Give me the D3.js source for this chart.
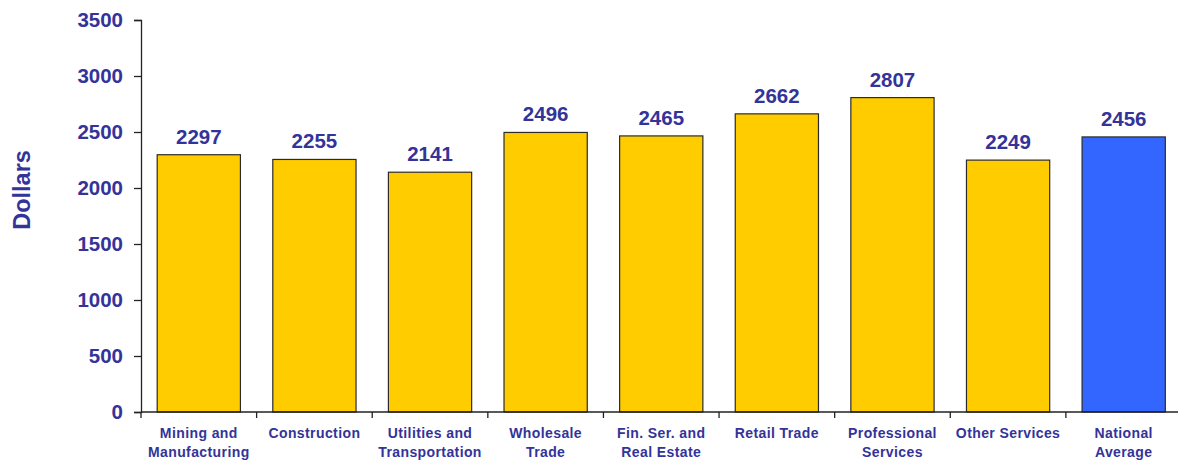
<!DOCTYPE html>
<html>
<head>
<meta charset="utf-8">
<script src="https://cdn.jsdelivr.net/npm/d3@7"></script>
<style>
  html, body { margin: 0; padding: 0; background: #fff; }
  svg { display: block; font-family: "Liberation Sans", Arial, sans-serif; }
</style>
</head>
<body>
<svg id="chart" width="1178" height="460"></svg>
<script>
// Average spending by industry, in dollars
const categories = [
  ["Mining and", "Manufacturing"],
  ["Construction"],
  ["Utilities and", "Transportation"],
  ["Wholesale", "Trade"],
  ["Fin. Ser. and", "Real Estate"],
  ["Retail Trade"],
  ["Professional", "Services"],
  ["Other Services"],
  ["National", "Average"]
];
const values = [2297, 2255, 2141, 2496, 2465, 2662, 2807, 2249, 2456];
const highlight = [false, false, false, false, false, false, false, false, true];
const yTicks = [0, 500, 1000, 1500, 2000, 2500, 3000, 3500];

const textColor = "#333399";
const svg = d3.select("#chart");
const plotLeft = 141, plotRight = 1181.5, plotTop = 20, plotBottom = 412;

const keys = categories.map((c, i) => i);
const x = d3.scaleBand().domain(keys).range([plotLeft, plotRight]).paddingInner(0.28).paddingOuter(0.14);
const y = d3.scaleLinear().domain([0, 3500]).range([plotBottom, plotTop]);

// Bars
svg.append("g").selectAll("rect").data(values).join("rect")
  .attr("x", (d, i) => x(i))
  .attr("y", d => y(d))
  .attr("width", x.bandwidth())
  .attr("height", d => y(0) - y(d))
  .attr("fill", (d, i) => highlight[i] ? "#3366FF" : "#FFCC00")
  .attr("stroke", "#2b2b2b")
  .attr("stroke-width", 1.2);

// Value labels
svg.append("g").selectAll("text").data(values).join("text")
  .attr("x", (d, i) => x(i) + x.bandwidth() / 2)
  .attr("y", d => y(d) - 11)
  .attr("text-anchor", "middle")
  .attr("fill", textColor)
  .attr("font-size", 20.5)
  .attr("font-weight", "bold")
  .text(d => d);

// Y axis
const yAxis = svg.append("g")
  .attr("transform", `translate(${plotLeft},0)`)
  .call(d3.axisLeft(y).tickValues(yTicks).tickSize(7).tickPadding(11).tickFormat(d3.format("d")));
yAxis.select(".domain").attr("stroke", "#222").attr("stroke-width", 1.3);
yAxis.selectAll(".tick line").attr("stroke", "#222").attr("stroke-width", 1.3);
yAxis.selectAll(".tick text")
  .attr("fill", textColor)
  .attr("font-size", 20.5)
  .attr("font-weight", "bold")
  .attr("font-family", "Liberation Sans, Arial, sans-serif");

// X axis with separator ticks between categories
const step = x.step();
const sepPositions = d3.range(categories.length + 1).map(i => plotLeft + i * step);
const xAxis = svg.append("g");
xAxis.append("line")
  .attr("x1", plotLeft).attr("x2", plotRight)
  .attr("y1", plotBottom).attr("y2", plotBottom)
  .attr("stroke", "#222").attr("stroke-width", 1.3);
xAxis.selectAll("line.sep").data(sepPositions).join("line")
  .attr("class", "sep")
  .attr("x1", d => d).attr("x2", d => d)
  .attr("y1", plotBottom).attr("y2", plotBottom + 6)
  .attr("stroke", "#222").attr("stroke-width", 1.3);

// Category labels
const catG = svg.append("g").selectAll("text").data(categories).join("text")
  .attr("x", (d, i) => x(i) + x.bandwidth() / 2)
  .attr("y", 438)
  .attr("text-anchor", "middle")
  .attr("fill", textColor)
  .attr("font-size", 14)
  .attr("font-weight", "bold")
  .attr("letter-spacing", 0.4);
catG.each(function(lines, i) {
  const t = d3.select(this);
  lines.forEach((line, j) => {
    t.append("tspan")
      .attr("x", x(i) + x.bandwidth() / 2)
      .attr("dy", j === 0 ? 0 : 19)
      .text(line);
  });
});

// Y axis title
svg.append("text")
  .attr("transform", "translate(30,190) rotate(-90)")
  .attr("text-anchor", "middle")
  .attr("fill", textColor)
  .attr("font-size", 23.5)
  .attr("font-weight", "bold")
  .text("Dollars");
</script>
</body>
</html>
